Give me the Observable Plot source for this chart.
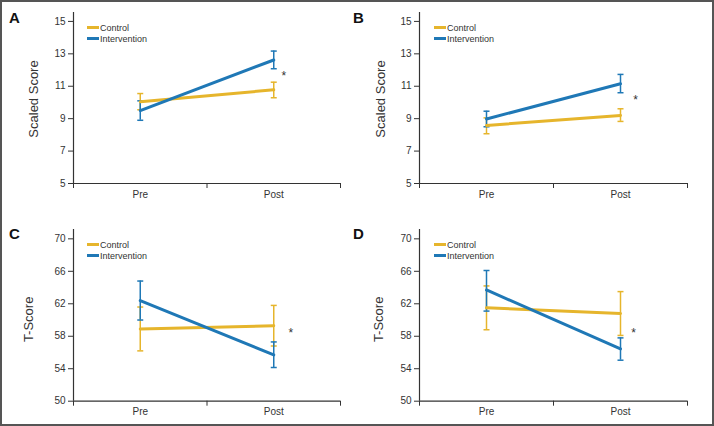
<!DOCTYPE html>
<html><head><meta charset="utf-8">
<script src="https://cdn.jsdelivr.net/npm/d3@7"></script>
<script src="https://cdn.jsdelivr.net/npm/@observablehq/plot@0.6"></script>
<style>
body{margin:0;background:#fff;font-family:"Liberation Sans",Arial,Helvetica,sans-serif;}
#wrap{position:relative;width:714px;height:426px;overflow:hidden;background:#fff;}
.panel{position:absolute;width:357px;height:213px;}
.panel svg{overflow:visible;}
.letter{position:absolute;font-weight:bold;font-size:15px;line-height:15px;color:#111;}
.legend{position:absolute;font-size:9px;color:#333;line-height:11px;white-space:nowrap;}
.legend .sw{display:inline-block;width:12px;height:3px;vertical-align:middle;margin-right:1px;position:relative;top:-1px;}
#frame{position:absolute;left:0;top:0;width:714px;height:426px;box-sizing:border-box;border:2px solid #555;pointer-events:none;}
</style></head><body><div id="wrap"></div><script>
const panelIds = ["A", "B", "C", "D"];
const timepoints = ["Pre", "Post"];
const groups = ["Control", "Intervention"];
const yLabels = ["Scaled Score", "Scaled Score", "T-Score", "T-Score"];
const yTicksScaled = [5, 7, 9, 11, 13, 15];
const yTicksT = [50, 54, 58, 62, 66, 70];

// means and error-bar ends per panel [Pre, Post]
const controlMean = [[10.05, 10.78], [8.58, 9.2], [58.9, 59.3], [61.5, 60.8]];
const controlLow = [[9.55, 10.29], [8.07, 8.83], [56.2, 56.8], [58.8, 58.1]];
const controlHigh = [[10.55, 11.25], [9.05, 9.61], [61.6, 61.8], [64.2, 63.5]];
const interventionMean = [[9.5, 12.62], [8.98, 11.15], [62.4, 55.7], [63.7, 56.45]];
const interventionLow = [[8.9, 12.08], [8.5, 10.6], [60.0, 54.15], [61.1, 55.05]];
const interventionHigh = [[10.1, 13.17], [9.46, 11.73], [64.8, 57.3], [66.1, 57.8]];
const asteriskY = [11.83, 10.33, 58.74, 58.74];

const colors = {Control: "#E6B52C", Intervention: "#1F78B6"};

const layout = [
  {left: 0, top: 0, ml: 73, mr: 17, mt: 12, mb: 30, yMin: 5, yTop: 15.55, ticks: yTicksScaled, labelDx: -40, labelDy: 1, starDx: 10, legLeft: 87, legTop: 23, letterLeft: 9, letterTop: 10},
  {left: 357, top: 0, ml: 62, mr: 27, mt: 12, mb: 30, yMin: 5, yTop: 15.55, ticks: yTicksScaled, labelDx: -39, labelDy: 1, starDx: 15, legLeft: 77, legTop: 23, letterLeft: 353, letterTop: 10},
  {left: 0, top: 213, ml: 73, mr: 17, mt: 16, mb: 25.3, yMin: 50, yTop: 71.15, ticks: yTicksT, labelDx: -45, labelDy: 4, starDx: 17, legLeft: 87, legTop: 240, letterLeft: 9, letterTop: 226},
  {left: 357, top: 213, ml: 62, mr: 27, mt: 16, mb: 25.3, yMin: 50, yTop: 71.15, ticks: yTicksT, labelDx: -41, labelDy: 4, starDx: 13, legLeft: 77, legTop: 240, letterLeft: 353, letterTop: 226}
];

const capSymbol = {draw(ctx) { ctx.moveTo(-3, 0); ctx.lineTo(3, 0); }};

const wrap = document.getElementById("wrap");

panelIds.forEach((id, p) => {
  const L = layout[p];
  const rows = [];
  groups.forEach(g => {
    const mean = g === "Control" ? controlMean[p] : interventionMean[p];
    const low = g === "Control" ? controlLow[p] : interventionLow[p];
    const high = g === "Control" ? controlHigh[p] : interventionHigh[p];
    timepoints.forEach((t, i) => rows.push({group: g, time: t, x: i + 0.5, mean: mean[i], low: low[i], high: high[i]}));
  });
  const star = [{x: timepoints.length - 0.5, y: asteriskY[p]}];

  const marks = [
    Plot.ruleY([L.yMin], {stroke: "#333", strokeWidth: 1.2}),
    Plot.ruleX([0], {stroke: "#333", strokeWidth: 1.2}),
    Plot.axisY({ticks: L.ticks, tickSize: 5, tickPadding: 3, label: null, fontSize: 10, stroke: "#333", fill: "#333"}),
    Plot.axisX({ticks: [0, 1, 2], tickSize: 5, tickFormat: () => "", label: null, stroke: "#333"}),
    Plot.axisX({ticks: timepoints.map((t, i) => i + 0.5), tickSize: 0, tickPadding: 7, tickFormat: d => timepoints[Math.round(d - 0.5)], label: null, fontSize: 10, fill: "#333"}),
    Plot.text([yLabels[p]], {frameAnchor: "left", rotate: -90, dx: L.labelDx, dy: L.labelDy, fontSize: 13, fill: "#333", textAnchor: "middle"})
  ];
  groups.forEach(g => {
    const d = rows.filter(r => r.group === g);
    marks.push(
      Plot.ruleX(d, {x: "x", y1: "low", y2: "high", stroke: colors[g], strokeWidth: 1.5}),
      Plot.dot(d, {x: "x", y: "low", symbol: capSymbol, r: 3, stroke: colors[g], fill: "none", strokeWidth: 1.5}),
      Plot.dot(d, {x: "x", y: "high", symbol: capSymbol, r: 3, stroke: colors[g], fill: "none", strokeWidth: 1.5})
    );
  });
  groups.forEach(g => {
    marks.push(Plot.line(rows.filter(r => r.group === g), {x: "x", y: "mean", stroke: colors[g], strokeWidth: 3}));
  });
  marks.push(Plot.text(star, {x: "x", y: "y", text: () => "*", dx: L.starDx, dy: 3, fontSize: 12, fill: "#333"}));

  const chart = Plot.plot({
    width: 357, height: 213,
    marginLeft: L.ml, marginRight: L.mr, marginTop: L.mt, marginBottom: L.mb,
    style: {fontFamily: "'Liberation Sans', Arial, sans-serif", background: "transparent", overflow: "visible"},
    x: {type: "linear", domain: [0, timepoints.length], axis: null},
    y: {domain: [L.yMin, L.yTop], axis: null},
    marks
  });
  const div = document.createElement("div");
  div.className = "panel";
  div.style.left = L.left + "px";
  div.style.top = L.top + "px";
  div.appendChild(chart);
  wrap.appendChild(div);

  const letter = document.createElement("div");
  letter.className = "letter";
  letter.textContent = id;
  letter.style.left = L.letterLeft + "px";
  letter.style.top = L.letterTop + "px";
  wrap.appendChild(letter);

  const leg = document.createElement("div");
  leg.className = "legend";
  leg.style.left = (L.left + L.legLeft) + "px";
  leg.style.top = L.legTop + "px";
  leg.innerHTML = groups.map(g => `<div><span class="sw" style="background:${colors[g]}"></span>${g}</div>`).join("");
  wrap.appendChild(leg);
});

const frame = document.createElement("div");
frame.id = "frame";
wrap.appendChild(frame);
</script></body></html>
